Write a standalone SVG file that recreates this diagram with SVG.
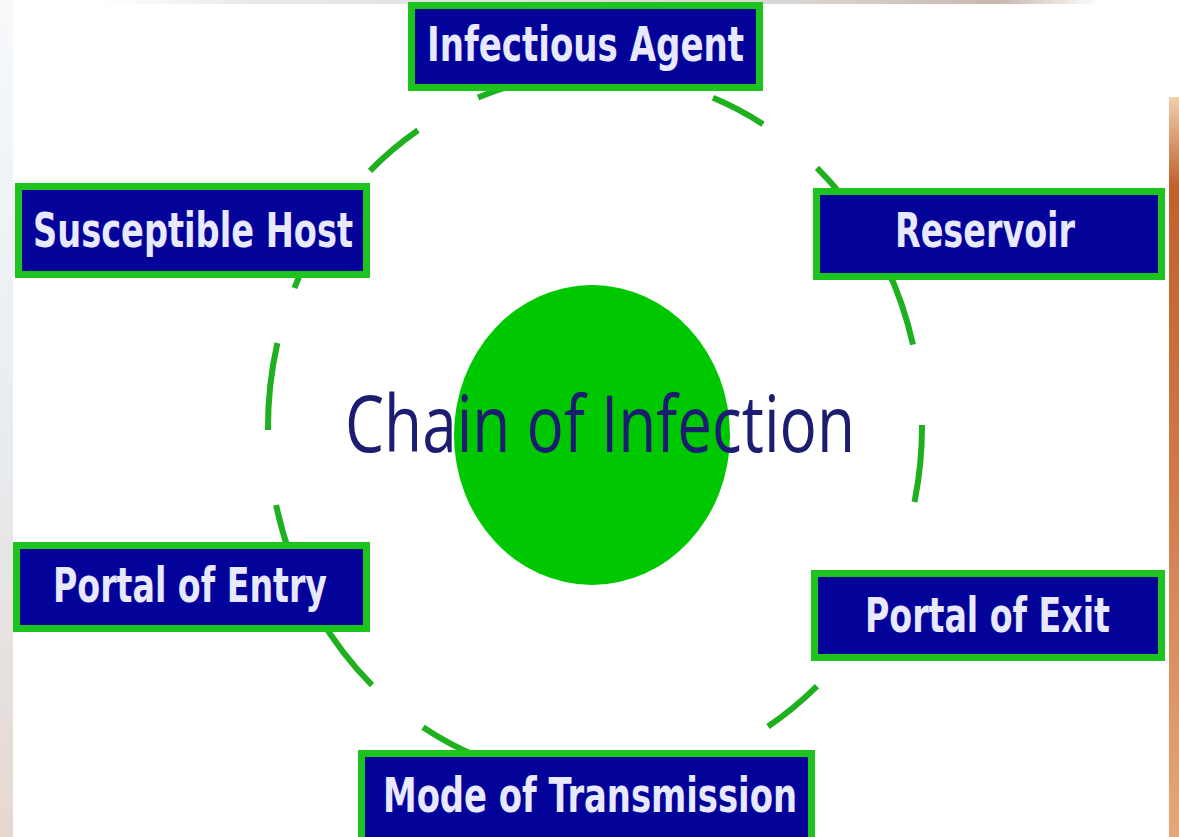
<svg xmlns="http://www.w3.org/2000/svg" width="1179" height="837" viewBox="0 0 1179 837">
  <defs>
    <linearGradient id="leftEdge" x1="0" y1="0" x2="0" y2="1">
      <stop offset="0" stop-color="#f7f9fb"/>
      <stop offset="0.5" stop-color="#e8edf2"/>
      <stop offset="1" stop-color="#e6d8cf"/>
    </linearGradient>
    <linearGradient id="rightEdge" x1="0" y1="0" x2="0" y2="1">
      <stop offset="0" stop-color="#f2cfae"/>
      <stop offset="0.12" stop-color="#c0602c"/>
      <stop offset="0.5" stop-color="#d0784a"/>
      <stop offset="1" stop-color="#e6a878"/>
    </linearGradient>
    <linearGradient id="topEdge" x1="0" y1="0" x2="1" y2="0">
      <stop offset="0" stop-color="#ffffff"/>
      <stop offset="0.15" stop-color="#e6e9ec"/>
      <stop offset="0.7" stop-color="#d9d5d2"/>
      <stop offset="0.9" stop-color="#c8b8ae"/>
      <stop offset="1" stop-color="#ffffff"/>
    </linearGradient>
  </defs>
  <style>
    .box { fill: #03039a; stroke: #1ec41e; stroke-width: 7; }
    .lbl { fill: #e8e8ff; font-family: "DejaVu Sans Condensed", "DejaVu Sans", sans-serif; font-weight: bold; font-size: 48px; text-anchor: middle; }
    .ring { fill: none; stroke: #1fb01f; stroke-width: 6; stroke-linecap: butt; }
    .title { fill: #1c1c70; font-family: "Open Sans", "Noto Sans", sans-serif; font-size: 78px; text-anchor: middle; }
  </style>

  <rect x="0" y="0" width="1179" height="837" fill="#ffffff"/>
  <rect x="0" y="0" width="13" height="837" fill="url(#leftEdge)"/>
  <rect x="100" y="0" width="1000" height="4" fill="url(#topEdge)"/>
  <rect x="1169" y="97" width="10" height="740" fill="url(#rightEdge)"/>

  <g id="connectors">
    <path class="ring" d="M 713 97.8 A 327 353 0 0 1 763 124.2"/>
    <path class="ring" d="M 817 167.8 A 327 353 0 0 1 842 195.7"/>
    <path class="ring" d="M 885 263.9 A 327 353 0 0 1 913 344.7"/>
    <path class="ring" d="M 922 425 A 327 353 0 0 1 914.5 502"/>
    <path class="ring" d="M 817 686.2 A 327 353 0 0 1 768 726.5"/>
    <path class="ring" d="M 478 756.6 A 327 353 0 0 1 423 727.2"/>
    <path class="ring" d="M 372 685.2 A 327 353 0 0 1 318 614.6"/>
    <path class="ring" d="M 290.6 556 A 327 353 0 0 1 276.1 505"/>
    <path class="ring" d="M 268 430 A 327 353 0 0 1 277.4 343"/>
    <path class="ring" d="M 294.4 288 A 327 353 0 0 1 305.9 262"/>
    <path class="ring" d="M 370 170.8 A 327 353 0 0 1 418 130.2"/>
    <path class="ring" d="M 478 97.4 A 327 353 0 0 1 515 84.7"/>
  </g>

  <g id="center">
    <ellipse cx="592" cy="435" rx="138" ry="150" fill="#00c800"/>
    <text class="title" x="600" y="452" textLength="510" lengthAdjust="spacingAndGlyphs">Chain of Infection</text>
  </g>

  <g id="infectious-agent">
    <rect class="box" x="411.5" y="5.5" width="348" height="82"/>
    <text class="lbl" x="585.5" y="61" font-size="50" textLength="317" lengthAdjust="spacingAndGlyphs">Infectious Agent</text>
  </g>
  <g id="reservoir">
    <rect class="box" x="816.5" y="191.5" width="345" height="85"/>
    <text class="lbl" x="985" y="247" textLength="180" lengthAdjust="spacingAndGlyphs">Reservoir</text>
  </g>
  <g id="portal-of-exit">
    <rect class="box" x="814.5" y="573.5" width="347" height="84"/>
    <text class="lbl" x="987.5" y="632" font-size="44" textLength="245" lengthAdjust="spacingAndGlyphs">Portal of Exit</text>
  </g>
  <g id="mode-of-transmission">
    <rect class="box" x="361.5" y="753.5" width="450" height="90"/>
    <text class="lbl" x="590" y="812" textLength="414" lengthAdjust="spacingAndGlyphs">Mode of Transmission</text>
  </g>
  <g id="portal-of-entry">
    <rect class="box" x="16.5" y="545.5" width="350" height="83"/>
    <text class="lbl" x="190" y="602" textLength="274" lengthAdjust="spacingAndGlyphs">Portal of Entry</text>
  </g>
  <g id="susceptible-host">
    <rect class="box" x="18.5" y="186.5" width="348" height="88"/>
    <text class="lbl" x="193" y="247" textLength="320" lengthAdjust="spacingAndGlyphs">Susceptible Host</text>
  </g>
</svg>
